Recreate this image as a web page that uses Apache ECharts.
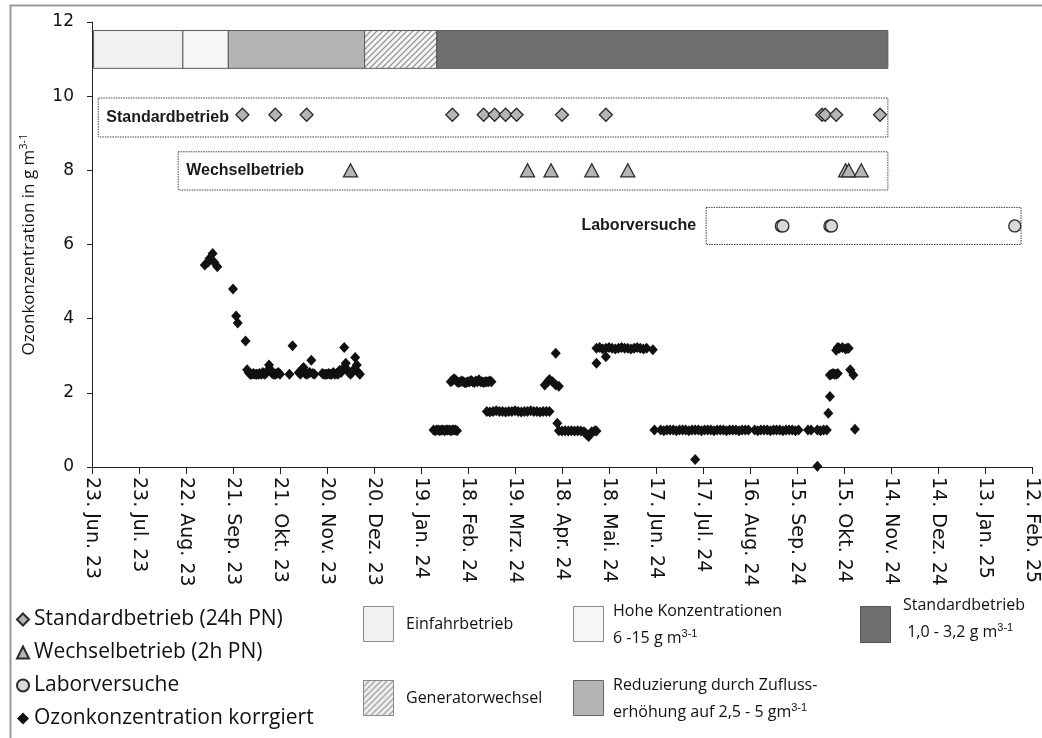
<!DOCTYPE html>
<html>
<head>
<meta charset="utf-8">
<script src="https://cdn.jsdelivr.net/npm/echarts@6/dist/echarts.min.js"></script>
<style>
html, body { margin: 0; padding: 0; background: #fff; }
#chart { width: 1042px; height: 738px; }
</style>
</head>
<body>
<div id="chart"></div>
<script>
"use strict";
// x axis counts days after 23 Jun 2023, ticks every 30 days
var START = Date.UTC(2023, 5, 23);
var MONTHS = ['Jan.', 'Feb.', 'Mrz.', 'Apr.', 'Mai.', 'Jun.', 'Jul.', 'Aug.', 'Sep.', 'Okt.', 'Nov.', 'Dez.'];
function day(s) {
    var p = s.split('-');
    return Math.round((Date.UTC(+p[0], +p[1] - 1, +p[2]) - START) / 86400000);
}
function fmtDay(d) {
    var dt = new Date(START + d * 86400000);
    return dt.getUTCDate() + '. ' + MONTHS[dt.getUTCMonth()] + ' ' + String(dt.getUTCFullYear()).slice(2);
}

// betriebsphasen (balken oben)
var phaseNames = ['Einfahrbetrieb', 'Hohe Konzentrationen', 'Reduzierung', 'Generatorwechsel', 'Standardbetrieb'];
var phaseStart = ['2023-06-24', '2023-08-20', '2023-09-18', '2023-12-14', '2024-01-29'];
var phaseEnd = ['2023-08-20', '2023-09-18', '2023-12-14', '2024-01-29', '2024-11-12'];
var phaseBand = [10.75, 11.77];

// gepunktete rahmen
var boxNames = ['Standardbetrieb', 'Wechselbetrieb', 'Laborversuche'];
var boxStart = ['2023-06-27', '2023-08-17', '2024-07-19'];
var boxEnd = ['2024-11-12', '2024-11-12', '2025-02-05'];
var boxLow = [8.9, 7.47, 6.0];
var boxHigh = [9.95, 8.5, 7.0];

var standardDates = ['2023-09-27', '2023-10-18', '2023-11-07', '2024-02-08', '2024-02-28', '2024-03-06',
    '2024-03-13', '2024-03-20', '2024-04-18', '2024-05-16', '2024-10-01', '2024-10-03', '2024-10-10', '2024-11-07'];
var standardLevel = 9.5;
var wechselDates = ['2023-12-05', '2024-03-27', '2024-04-11', '2024-05-07', '2024-05-30', '2024-10-16', '2024-10-18', '2024-10-26'];
var wechselLevel = 8;
var laborDates = ['2024-09-05', '2024-09-06', '2024-10-06', '2024-10-07', '2025-02-01'];
var laborLevel = 6.5;

var ozone = [
    ['2023-09-03', 5.45], ['2023-09-05', 5.52], ['2023-09-06', 5.62], ['2023-09-08', 5.76], ['2023-09-09', 5.52],
    ['2023-09-11', 5.40], ['2023-09-21', 4.80], ['2023-09-23', 4.07], ['2023-09-24', 3.88], ['2023-09-29', 3.40],
    ['2023-09-30', 2.62],
    ['2023-10-01', 2.55], ['2023-10-02', 2.50], ['2023-10-03', 2.50], ['2023-10-04', 2.52], ['2023-10-05', 2.50],
    ['2023-10-06', 2.50], ['2023-10-07', 2.50], ['2023-10-08', 2.52], ['2023-10-09', 2.50], ['2023-10-10', 2.55],
    ['2023-10-11', 2.50], ['2023-10-12', 2.52], ['2023-10-13', 2.60], ['2023-10-14', 2.75], ['2023-10-15', 2.62],
    ['2023-10-16', 2.52], ['2023-10-17', 2.50], ['2023-10-18', 2.50], ['2023-10-19', 2.52], ['2023-10-20', 2.55],
    ['2023-10-21', 2.50], ['2023-10-27', 2.50], ['2023-10-29', 3.27],
    ['2023-11-02', 2.55], ['2023-11-03', 2.50], ['2023-11-04', 2.62], ['2023-11-05', 2.68], ['2023-11-06', 2.52],
    ['2023-11-07', 2.50], ['2023-11-08', 2.52], ['2023-11-09', 2.55], ['2023-11-10', 2.88], ['2023-11-11', 2.52],
    ['2023-11-12', 2.50], ['2023-11-17', 2.52], ['2023-11-18', 2.50], ['2023-11-19', 2.50], ['2023-11-20', 2.50],
    ['2023-11-21', 2.52], ['2023-11-22', 2.50], ['2023-11-23', 2.50], ['2023-11-24', 2.55], ['2023-11-25', 2.50],
    ['2023-11-26', 2.52], ['2023-11-27', 2.50], ['2023-11-28', 2.60], ['2023-11-29', 2.55], ['2023-11-30', 2.65],
    ['2023-12-01', 3.22], ['2023-12-02', 2.80], ['2023-12-03', 2.62], ['2023-12-04', 2.55], ['2023-12-05', 2.50],
    ['2023-12-06', 2.55], ['2023-12-07', 2.62], ['2023-12-08', 2.95], ['2023-12-09', 2.75], ['2023-12-10', 2.55],
    ['2023-12-11', 2.50],
    ['2024-01-27', 1.00], ['2024-01-28', 0.98], ['2024-01-29', 1.00], ['2024-01-30', 1.00], ['2024-01-31', 0.98],
    ['2024-02-01', 1.00], ['2024-02-02', 1.00], ['2024-02-03', 0.98], ['2024-02-04', 1.00], ['2024-02-05', 1.00],
    ['2024-02-06', 1.00], ['2024-02-07', 0.98], ['2024-02-08', 1.00], ['2024-02-09', 1.00], ['2024-02-10', 1.00],
    ['2024-02-11', 0.98],
    ['2024-02-07', 2.30], ['2024-02-08', 2.33], ['2024-02-09', 2.38], ['2024-02-10', 2.35], ['2024-02-11', 2.30],
    ['2024-02-12', 2.28], ['2024-02-13', 2.30], ['2024-02-14', 2.32], ['2024-02-15', 2.30], ['2024-02-16', 2.27],
    ['2024-02-17', 2.28], ['2024-02-18', 2.30], ['2024-02-19', 2.30], ['2024-02-20', 2.33], ['2024-02-21', 2.30],
    ['2024-02-22', 2.28], ['2024-02-23', 2.32], ['2024-02-24', 2.30], ['2024-02-25', 2.35], ['2024-02-26', 2.30],
    ['2024-02-27', 2.30], ['2024-02-28', 2.28], ['2024-02-29', 2.30], ['2024-03-01', 2.30], ['2024-03-02', 2.30],
    ['2024-03-03', 2.32], ['2024-03-04', 2.30],
    ['2024-03-01', 1.50], ['2024-03-03', 1.48], ['2024-03-05', 1.50], ['2024-03-07', 1.52], ['2024-03-09', 1.50],
    ['2024-03-11', 1.50], ['2024-03-13', 1.48], ['2024-03-15', 1.50], ['2024-03-17', 1.50], ['2024-03-19', 1.52],
    ['2024-03-21', 1.50], ['2024-03-23', 1.48], ['2024-03-25', 1.50], ['2024-03-27', 1.50], ['2024-03-29', 1.52],
    ['2024-03-31', 1.50], ['2024-04-02', 1.50], ['2024-04-04', 1.48], ['2024-04-06', 1.50], ['2024-04-08', 1.50],
    ['2024-04-10', 1.50],
    ['2024-04-07', 2.21], ['2024-04-09', 2.30], ['2024-04-10', 2.36], ['2024-04-12', 2.30], ['2024-04-14', 2.21],
    ['2024-04-16', 2.18], ['2024-04-14', 3.07], ['2024-04-15', 1.18],
    ['2024-04-16', 0.98], ['2024-04-18', 0.97], ['2024-04-20', 0.98], ['2024-04-22', 0.97], ['2024-04-24', 0.98],
    ['2024-04-26', 0.97], ['2024-04-28', 0.98], ['2024-04-30', 0.97], ['2024-05-02', 0.95], ['2024-05-03', 0.92],
    ['2024-05-04', 0.86], ['2024-05-05', 0.82], ['2024-05-06', 0.88], ['2024-05-07', 0.95], ['2024-05-09', 0.98],
    ['2024-05-10', 0.97],
    ['2024-05-10', 2.80], ['2024-05-16', 2.97],
    ['2024-05-10', 3.20], ['2024-05-12', 3.22], ['2024-05-14', 3.18], ['2024-05-16', 3.20], ['2024-05-18', 3.22],
    ['2024-05-20', 3.20], ['2024-05-22', 3.18], ['2024-05-24', 3.20], ['2024-05-26', 3.22], ['2024-05-28', 3.20],
    ['2024-05-30', 3.20], ['2024-06-01', 3.18], ['2024-06-03', 3.20], ['2024-06-05', 3.22], ['2024-06-07', 3.20],
    ['2024-06-09', 3.18], ['2024-06-11', 3.20], ['2024-06-15', 3.16],
    ['2024-06-16', 1.00], ['2024-06-20', 1.00], ['2024-06-22', 0.98], ['2024-06-24', 1.00], ['2024-06-26', 1.00],
    ['2024-06-28', 1.00], ['2024-06-30', 0.98], ['2024-07-02', 1.00], ['2024-07-04', 1.00], ['2024-07-06', 1.00],
    ['2024-07-08', 0.98], ['2024-07-10', 1.00], ['2024-07-12', 1.00], ['2024-07-14', 1.00], ['2024-07-16', 0.98],
    ['2024-07-18', 1.00], ['2024-07-20', 1.00], ['2024-07-22', 1.00], ['2024-07-24', 0.98], ['2024-07-26', 1.00],
    ['2024-07-28', 1.00], ['2024-07-30', 1.00], ['2024-08-01', 0.98], ['2024-08-03', 1.00], ['2024-08-05', 1.00],
    ['2024-08-07', 1.00], ['2024-08-09', 0.98], ['2024-08-11', 1.00], ['2024-08-13', 1.00], ['2024-08-15', 1.00],
    ['2024-08-19', 1.00], ['2024-08-21', 0.98], ['2024-08-23', 1.00], ['2024-08-25', 1.00], ['2024-08-27', 1.00],
    ['2024-08-29', 0.98], ['2024-08-31', 1.00], ['2024-09-02', 1.00], ['2024-09-04', 1.00], ['2024-09-06', 0.98],
    ['2024-09-08', 1.00], ['2024-09-10', 1.00], ['2024-09-12', 1.00], ['2024-09-14', 0.98], ['2024-09-16', 1.00],
    ['2024-09-22', 1.00], ['2024-09-24', 1.00], ['2024-09-28', 1.00], ['2024-09-30', 0.98], ['2024-10-02', 1.00],
    ['2024-10-04', 1.00],
    ['2024-07-12', 0.20], ['2024-09-28', 0.02],
    ['2024-10-05', 1.45], ['2024-10-06', 1.90], ['2024-10-06', 2.48], ['2024-10-07', 2.50], ['2024-10-08', 2.52],
    ['2024-10-09', 2.50], ['2024-10-10', 2.50], ['2024-10-11', 2.52], ['2024-10-10', 3.15], ['2024-10-11', 3.22],
    ['2024-10-12', 3.20], ['2024-10-14', 3.22], ['2024-10-16', 3.18], ['2024-10-17', 3.20], ['2024-10-18', 3.20],
    ['2024-10-19', 2.62], ['2024-10-21', 2.48], ['2024-10-22', 1.02]
];

var FONT_AX = '"DejaVu Sans", Verdana, sans-serif';
var FONT_TX = '"Open Sans", "Noto Sans", sans-serif';
var FONT_BOLD = '"Liberation Sans", Arial, sans-serif';

function hatch() {
    var c = document.createElement('canvas');
    c.width = 6; c.height = 6;
    var g = c.getContext('2d');
    g.fillStyle = '#f4f4f4';
    g.fillRect(0, 0, 6, 6);
    g.strokeStyle = '#8a8a8a';
    g.lineWidth = 1.2;
    g.beginPath();
    g.moveTo(-1, 7); g.lineTo(7, -1);
    g.moveTo(-4, 4); g.lineTo(4, -4);
    g.moveTo(2, 10); g.lineTo(10, 2);
    g.stroke();
    return { image: c, repeat: 'repeat' };
}
var HATCH = hatch();
var phaseFill = ['#f1f1f1', '#f6f6f6', '#b4b4b4', HATCH, '#6f6f6f'];

var phaseData = phaseNames.map(function (n, i) {
    return [day(phaseStart[i]), day(phaseEnd[i]), phaseBand[0], phaseBand[1], i];
});
var boxData = boxNames.map(function (n, i) {
    return [day(boxStart[i]), day(boxEnd[i]), boxLow[i], boxHigh[i], i];
});

function renderPhase(params, api) {
    var a = api.coord([api.value(0), api.value(3)]);
    var b = api.coord([api.value(1), api.value(2)]);
    return {
        type: 'rect',
        shape: { x: a[0], y: a[1], width: b[0] - a[0], height: b[1] - a[1] },
        style: { fill: phaseFill[api.value(4)], stroke: '#5a5a5a', lineWidth: 1 }
    };
}
function renderBox(params, api) {
    var i = api.value(4);
    var a = api.coord([api.value(0), api.value(3)]);
    var b = api.coord([api.value(1), api.value(2)]);
    var inside = i < 2;
    var midY = (a[1] + b[1]) / 2;
    return {
        type: 'group',
        children: [{
            type: 'rect',
            shape: { x: a[0], y: a[1], width: b[0] - a[0], height: b[1] - a[1] },
            style: { fill: 'rgba(255,255,255,0)', stroke: '#444', lineWidth: 1, lineDash: [1.5, 1] }
        }, {
            type: 'text',
            style: {
                text: boxNames[i],
                x: inside ? a[0] + 8 : a[0] - 10,
                y: midY,
                align: inside ? 'left' : 'right',
                verticalAlign: 'middle',
                font: 'bold 16px ' + FONT_BOLD,
                fill: '#1a1a1a'
            }
        }]
    };
}

function level(dates, y) {
    return dates.map(function (d) { return [day(d), y]; });
}

var SUP = { fontSize: 11, verticalAlign: 'top', lineHeight: 20 };

var chart = echarts.init(document.getElementById('chart'));
chart.setOption({
    animation: false,
    backgroundColor: '#fff',
    grid: { left: 92, right: 10, top: 22, bottom: 271 },
    xAxis: {
        type: 'value', min: 0, max: 600, interval: 30,
        axisLine: { lineStyle: { color: '#222', width: 1 } },
        axisTick: { show: true, length: 7, lineStyle: { color: '#222' } },
        splitLine: { show: false },
        axisLabel: {
            rotate: -90, margin: 10, fontSize: 19, fontFamily: FONT_AX, color: '#111',
            formatter: fmtDay
        }
    },
    yAxis: {
        type: 'value', min: 0, max: 12, interval: 2,
        axisLine: { show: true, lineStyle: { color: '#222', width: 1 } },
        axisTick: { show: true, length: 5, lineStyle: { color: '#222' } },
        splitLine: { show: false },
        axisLabel: { fontSize: 17, fontFamily: FONT_AX, color: '#111', margin: 18 },
        name: 'Ozonkonzentration in g m{sup|3-1}',
        nameLocation: 'middle',
        nameGap: 52,
        nameTextStyle: {
            fontSize: 17, fontFamily: FONT_TX, color: '#111', lineHeight: 22,
            rich: { sup: { fontSize: 11, fontFamily: FONT_TX, color: '#111', verticalAlign: 'top', lineHeight: 22 } }
        }
    },
    legend: {
        orient: 'vertical', left: 16, top: 608, padding: 0,
        itemWidth: 12, itemHeight: 12, itemGap: 10,
        textStyle: { fontSize: 21, fontFamily: FONT_TX, color: '#111', lineHeight: 23 },
        data: [
            { name: 'Standardbetrieb (24h PN)', icon: 'diamond' },
            { name: 'Wechselbetrieb (2h PN)', icon: 'triangle' },
            { name: 'Laborversuche', icon: 'circle' },
            { name: 'Ozonkonzentration korrgiert', icon: 'diamond', itemStyle: { borderWidth: 0 } }
        ]
    },
    graphic: [
        { type: 'rect', left: 8, top: 3, shape: { width: 1050, height: 750 }, style: { fill: 'none', stroke: '#9a9a9a', lineWidth: 2 }, silent: true },
        { type: 'rect', left: 363, top: 606, shape: { width: 30, height: 35 }, style: { fill: phaseFill[0], stroke: '#8a8a8a', lineWidth: 1 } },
        { type: 'text', left: 406, top: 616, style: { text: 'Einfahrbetrieb', font: '16px ' + FONT_TX, fill: '#111' } },
        { type: 'rect', left: 573, top: 606, shape: { width: 30, height: 35 }, style: { fill: phaseFill[1], stroke: '#8a8a8a', lineWidth: 1 } },
        { type: 'text', left: 613, top: 603, style: { text: 'Hohe Konzentrationen', font: '16px ' + FONT_TX, fill: '#111' } },
        { type: 'text', left: 613, top: 628, style: { text: '6 -15 g m{sup|3-1}', font: '16px ' + FONT_TX, fill: '#111', rich: { sup: SUP } } },
        { type: 'rect', left: 860, top: 606, shape: { width: 30, height: 36 }, style: { fill: phaseFill[4], stroke: '#555', lineWidth: 1 } },
        { type: 'text', left: 903, top: 597, style: { text: 'Standardbetrieb', font: '16px ' + FONT_TX, fill: '#111' } },
        { type: 'text', left: 903, top: 622, style: { text: ' 1,0 - 3,2 g m{sup|3-1}', font: '16px ' + FONT_TX, fill: '#111', rich: { sup: SUP } } },
        { type: 'rect', left: 363, top: 680, shape: { width: 30, height: 35 }, style: { fill: HATCH, stroke: '#8a8a8a', lineWidth: 1 } },
        { type: 'text', left: 406, top: 690, style: { text: 'Generatorwechsel', font: '16px ' + FONT_TX, fill: '#111' } },
        { type: 'rect', left: 573, top: 680, shape: { width: 30, height: 35 }, style: { fill: phaseFill[2], stroke: '#666', lineWidth: 1 } },
        { type: 'text', left: 613, top: 677, style: { text: 'Reduzierung durch Zufluss-', font: '16px ' + FONT_TX, fill: '#111' } },
        { type: 'text', left: 613, top: 702, style: { text: 'erhöhung auf 2,5 - 5 gm{sup|3-1}', font: '16px ' + FONT_TX, fill: '#111', rich: { sup: SUP } } }
    ],
    series: [
        { type: 'custom', name: 'Phasen', renderItem: renderPhase, data: phaseData, encode: { x: [0, 1], y: [2, 3] }, z: 1, silent: true },
        { type: 'custom', name: 'Rahmen', renderItem: renderBox, data: boxData, encode: { x: [0, 1], y: [2, 3] }, z: 1, silent: true },
        {
            type: 'scatter', name: 'Ozonkonzentration korrgiert', data: ozone.map(function (p) { return [day(p[0]), p[1]]; }),
            symbol: 'diamond', symbolSize: [10, 11], itemStyle: { color: '#111', opacity: 1 }, z: 3
        },
        {
            type: 'scatter', name: 'Standardbetrieb (24h PN)', data: level(standardDates, standardLevel),
            symbol: 'diamond', symbolSize: 13, itemStyle: { color: '#b5b5b5', borderColor: '#2a2a2a', borderWidth: 1.3, opacity: 1 }, z: 4
        },
        {
            type: 'scatter', name: 'Wechselbetrieb (2h PN)', data: level(wechselDates, wechselLevel),
            symbol: 'triangle', symbolSize: [14, 13], itemStyle: { color: '#b5b5b5', borderColor: '#2a2a2a', borderWidth: 1.3, opacity: 1 }, z: 4
        },
        {
            type: 'scatter', name: 'Laborversuche', data: level(laborDates, laborLevel),
            symbol: 'circle', symbolSize: 12, itemStyle: { color: '#d9d9d9', borderColor: '#2a2a2a', borderWidth: 1.3, opacity: 1 }, z: 4
        }
    ]
});
</script>
</body>
</html>
